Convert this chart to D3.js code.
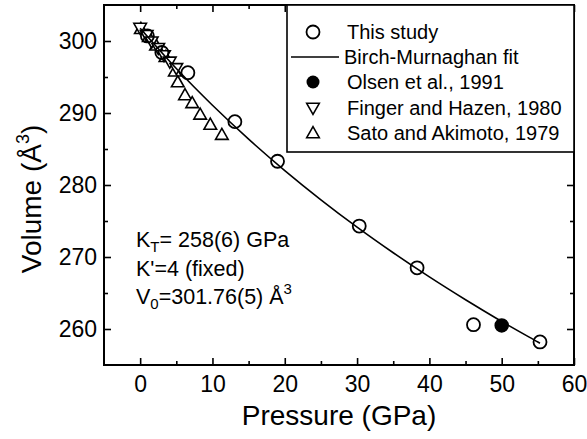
<!DOCTYPE html>
<html>
<head>
<meta charset="utf-8">
<script src="https://cdn.jsdelivr.net/npm/d3@7"></script>
<style>
  html, body { margin: 0; padding: 0; background: #fff; }
  svg { display: block; font-family: Arial, "Liberation Sans", sans-serif; }
</style>
</head>
<body>
<svg id="chart" width="587" height="439"></svg>
<script>
// ---- data ----
const thisStudyP = [1.0, 3.0, 6.6, 13.1, 19.0, 30.3, 38.3, 46.1, 55.3];
const thisStudyV = [300.7, 298.4, 295.6, 288.8, 283.3, 274.3, 268.5, 260.6, 258.2];

const olsenP = [50.0];
const olsenV = [260.5];

const fingerP = [0.0, 0.9, 1.6, 2.5, 3.3, 4.1, 5.0];
const fingerV = [301.8, 300.8, 299.9, 299.0, 298.0, 297.1, 296.2];

const satoP = [0.1, 1.2, 2.2, 3.5, 4.8, 5.2, 6.2, 7.2, 8.3, 9.7, 11.3];
const satoV = [301.7, 300.6, 299.4, 297.8, 295.8, 294.3, 292.5, 291.4, 289.8, 288.4, 287.0];

// Birch-Murnaghan fit line
const fitP = [0, 5, 10, 15, 20, 25, 30, 35, 40, 45, 50, 55, 55.3];
const fitV = [301.76, 296.17, 291.07, 286.37, 282.01, 277.95, 274.15, 270.59, 267.23, 264.06, 261.05, 258.20, 258.03];

const xMajor = [0, 10, 20, 30, 40, 50, 60];
const xMinor = [5, 15, 25, 35, 45, 55];
const yMajor = [260, 270, 280, 290, 300];
const yMinor = [265, 275, 285, 295];

const legendLabels = ["This study", "Birch-Murnaghan fit", "Olsen et al., 1991", "Finger and Hazen, 1980", "Sato and Akimoto, 1979"];

// ---- layout ----
const svg = d3.select("#chart");
const L = 104, R = 574, T = 5, B = 365;
const x = d3.scaleLinear().domain([-5, 60]).range([L, R]);
const y = d3.scaleLinear().domain([255, 305]).range([B, T]);

svg.append("rect").attr("width", 587).attr("height", 439).attr("fill", "#fff");

function styleAxis(g) {
  g.select(".domain").remove();
  g.selectAll(".tick line").attr("stroke", "#000").attr("stroke-width", 1.6);
  g.selectAll(".tick text").attr("fill", "#000").attr("font-size", 23).attr("font-family", "Arial, 'Liberation Sans', sans-serif");
}

// bottom
svg.append("g").attr("transform", `translate(0,${B})`)
  .call(d3.axisBottom(x).tickValues(xMajor).tickSize(-7).tickPadding(11).tickFormat(d3.format("d")))
  .call(styleAxis);
svg.append("g").attr("transform", `translate(0,${B})`)
  .call(d3.axisBottom(x).tickValues(xMinor).tickSize(-4).tickFormat(""))
  .call(styleAxis);
// top
svg.append("g").attr("transform", `translate(0,${T})`)
  .call(d3.axisTop(x).tickValues(xMajor).tickSize(-7).tickFormat(""))
  .call(styleAxis);
svg.append("g").attr("transform", `translate(0,${T})`)
  .call(d3.axisTop(x).tickValues(xMinor).tickSize(-4).tickFormat(""))
  .call(styleAxis);
// left
svg.append("g").attr("transform", `translate(${L},0)`)
  .call(d3.axisLeft(y).tickValues(yMajor).tickSize(-7).tickPadding(7).tickFormat(d3.format("d")))
  .call(styleAxis);
svg.append("g").attr("transform", `translate(${L},0)`)
  .call(d3.axisLeft(y).tickValues(yMinor).tickSize(-4).tickFormat(""))
  .call(styleAxis);
// right
svg.append("g").attr("transform", `translate(${R},0)`)
  .call(d3.axisRight(y).tickValues(yMajor).tickSize(-7).tickFormat(""))
  .call(styleAxis);
svg.append("g").attr("transform", `translate(${R},0)`)
  .call(d3.axisRight(y).tickValues(yMinor).tickSize(-4).tickFormat(""))
  .call(styleAxis);

// frame
svg.append("rect").attr("x", L).attr("y", T).attr("width", R - L).attr("height", B - T)
  .attr("fill", "none").attr("stroke", "#000").attr("stroke-width", 2);

// axis titles
svg.append("text").attr("x", (L + R) / 2).attr("y", 425).attr("text-anchor", "middle")
  .attr("font-size", 28).text("Pressure (GPa)");
const yt = svg.append("text").attr("transform", `translate(41,199) rotate(-90)`)
  .attr("text-anchor", "middle").attr("font-size", 28);
yt.append("tspan").text("Volume (Å");
yt.append("tspan").attr("font-size", 18).attr("dy", -12).text("3");
yt.append("tspan").attr("dy", 12).text(")");

// symbols
const tri = 6.3;
function upTri(cx, cy) { return `M${cx},${cy - tri}L${cx + tri},${cy + tri * 0.75}L${cx - tri},${cy + tri * 0.75}Z`; }
function downTri(cx, cy) { return `M${cx},${cy + tri}L${cx + tri},${cy - tri * 0.75}L${cx - tri},${cy - tri * 0.75}Z`; }

const fitData = fitP.map((p, i) => [p, fitV[i]]);
const satoData = satoP.map((p, i) => [p, satoV[i]]);
const fingerData = fingerP.map((p, i) => [p, fingerV[i]]);
const studyData = thisStudyP.map((p, i) => [p, thisStudyV[i]]);
const olsenData = olsenP.map((p, i) => [p, olsenV[i]]);

svg.append("g").selectAll("path").data(satoData).join("path")
  .attr("d", d => upTri(x(d[0]), y(d[1]))).attr("fill", "#fff").attr("stroke", "#000").attr("stroke-width", 1.6);
svg.append("g").selectAll("path").data(fingerData).join("path")
  .attr("d", d => downTri(x(d[0]), y(d[1]))).attr("fill", "#fff").attr("stroke", "#000").attr("stroke-width", 1.6);

svg.append("path").datum(fitData)
  .attr("d", d3.line().x(d => x(d[0])).y(d => y(d[1])).curve(d3.curveMonotoneX))
  .attr("fill", "none").attr("stroke", "#000").attr("stroke-width", 1.6);

svg.append("g").selectAll("circle").data(studyData).join("circle")
  .attr("cx", d => x(d[0])).attr("cy", d => y(d[1])).attr("r", 6.5)
  .attr("fill", "#fff").attr("fill-opacity", 0).attr("stroke", "#000").attr("stroke-width", 1.8);
svg.append("g").selectAll("circle").data(olsenData).join("circle")
  .attr("cx", d => x(d[0])).attr("cy", d => y(d[1])).attr("r", 6.5)
  .attr("fill", "#000").attr("stroke", "#000").attr("stroke-width", 1.5);

// annotations
const ann = svg.append("g").attr("font-size", 21.5).attr("fill", "#000");
const a1 = ann.append("text").attr("x", 136).attr("y", 247);
a1.append("tspan").text("K");
a1.append("tspan").attr("font-size", 15).attr("dy", 5).text("T");
a1.append("tspan").attr("dy", -5).text("= 258(6) GPa");
ann.append("text").attr("x", 136).attr("y", 276).text("K'=4 (fixed)");
const a3 = ann.append("text").attr("x", 136).attr("y", 304);
a3.append("tspan").text("V");
a3.append("tspan").attr("font-size", 15).attr("dy", 5).text("0");
a3.append("tspan").attr("dy", -5).text("=301.76(5) Å");
a3.append("tspan").attr("font-size", 15).attr("dy", -10).text("3");

// legend
const lg = svg.append("g");
lg.append("rect").attr("x", 287).attr("y", T).attr("width", R - 287).attr("height", 147)
  .attr("fill", "#fff").attr("stroke", "#000").attr("stroke-width", 1.6);
const rowY = [32, 57, 82, 108, 133];
const symX = 313, txtX = 347;
lg.append("circle").attr("cx", symX).attr("cy", rowY[0]).attr("r", 6.5).attr("fill", "#fff").attr("stroke", "#000").attr("stroke-width", 1.8);
lg.append("line").attr("x1", 291).attr("x2", 339).attr("y1", rowY[1]).attr("y2", rowY[1]).attr("stroke", "#000").attr("stroke-width", 1.6);
lg.append("circle").attr("cx", symX).attr("cy", rowY[2]).attr("r", 6.5).attr("fill", "#000");
lg.append("path").attr("d", downTri(symX, rowY[3])).attr("fill", "#fff").attr("stroke", "#000").attr("stroke-width", 1.6);
lg.append("path").attr("d", upTri(symX, rowY[4])).attr("fill", "#fff").attr("stroke", "#000").attr("stroke-width", 1.6);
lg.selectAll("text.lbl").data(legendLabels).join("text").attr("class", "lbl")
  .attr("x", (d, i) => i === 1 ? txtX - 3 : txtX).attr("y", (d, i) => rowY[i]).attr("dy", "0.35em")
  .attr("font-size", 20).text(d => d);
</script>
</body>
</html>
